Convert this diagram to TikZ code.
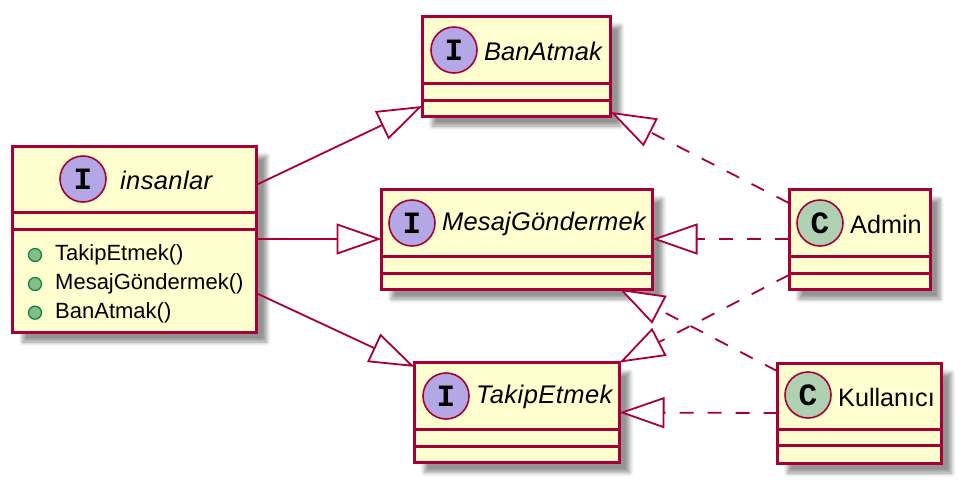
\documentclass[tikz,border=0pt]{standalone}
\usepackage{xcolor}
\usepackage{fontspec}
\setmainfont{Liberation Sans}
\newfontfamily\letterfont{Liberation Mono}
\usetikzlibrary{arrows.meta, shadows.blur}
\definecolor{umlred}{HTML}{A80036}
\definecolor{umlbox}{HTML}{FEFECE}
\definecolor{umlpurple}{HTML}{B4A7E5}
\definecolor{umlsage}{HTML}{ADD1B2}
\definecolor{umlgreen}{HTML}{84BE84}
\definecolor{umldot}{HTML}{038048}

\begin{document}
\begin{tikzpicture}[
  x=1pt, y=-1pt,
  box/.style={
    rectangle,
    draw=umlred,
    fill=umlbox,
    line width=3pt,
    inner sep=0pt,
    outer sep=0pt,
    blur shadow={shadow xshift=10pt, shadow yshift=-10pt, shadow blur radius=4pt, shadow blur steps=6, shadow opacity=42}
  },
  divider/.style={
    draw=umlred,
    line width=3pt
  },
  ifacemark/.style={
    circle,
    draw=umlred,
    fill=umlpurple,
    line width=1.6pt,
    minimum size=46pt,
    inner sep=0pt,
    font=\fontsize{31}{31}\selectfont\letterfont\bfseries
  },
  classmark/.style={
    ifacemark,
    fill=umlsage
  },
  iname/.style={
    anchor=west,
    inner sep=0pt,
    font=\fontsize{25.5}{27}\selectfont\itshape
  },
  cname/.style={
    anchor=west,
    inner sep=0pt,
    font=\fontsize{25.2}{27}\selectfont
  },
  member/.style={
    anchor=west,
    inner sep=0pt,
    font=\fontsize{22}{24}\selectfont
  },
  memberdot/.style={
    circle,
    draw=umldot,
    fill=umlgreen,
    line width=1.2pt,
    minimum size=13pt,
    inner sep=0pt
  },
  extends/.style={
    draw=umlred,
    line width=1.8pt,
    -{Triangle[length=45pt, width=31pt, fill=white]}
  },
  implements/.style={
    extends,
    dash pattern=on 14pt off 14pt
  }
]
  \useasboundingbox (0,0) rectangle (962,483);

  % Boxes
  \node[box, minimum width=244pt, minimum height=186pt] (insanlar) at (134.7,239) {};
  \node[box, minimum width=188.4pt, minimum height=100pt] (banatmak) at (516.5,66) {};
  \node[box, minimum width=271pt, minimum height=100pt] (mesaj) at (517,239) {};
  \node[box, minimum width=205pt, minimum height=100pt] (takip) at (517,412.5) {};
  \node[box, minimum width=141pt, minimum height=100pt] (admin) at (859.5,239) {};
  \node[box, minimum width=164pt, minimum height=100pt] (kullanici) at (859.5,413) {};

  % Compartment lines
  \draw[divider] (insanlar.west |- 0,212.3) -- (insanlar.east |- 0,212.3);
  \draw[divider] (insanlar.west |- 0,229) -- (insanlar.east |- 0,229);
  \draw[divider] (banatmak.west |- 0,83) -- (banatmak.east |- 0,83);
  \draw[divider] (banatmak.west |- 0,100) -- (banatmak.east |- 0,100);
  \draw[divider] (mesaj.west |- 0,256.5) -- (mesaj.east |- 0,256.5);
  \draw[divider] (mesaj.west |- 0,273) -- (mesaj.east |- 0,273);
  \draw[divider] (takip.west |- 0,429.5) -- (takip.east |- 0,429.5);
  \draw[divider] (takip.west |- 0,446) -- (takip.east |- 0,446);
  \draw[divider] (admin.west |- 0,256.5) -- (admin.east |- 0,256.5);
  \draw[divider] (admin.west |- 0,273) -- (admin.east |- 0,273);
  \draw[divider] (kullanici.west |- 0,429.5) -- (kullanici.east |- 0,429.5);
  \draw[divider] (kullanici.west |- 0,445.5) -- (kullanici.east |- 0,445.5);

  % Headers
  \node[ifacemark] (insanlarI) at (83,179) {I};
  \node[iname] (insanlarN) at (120,180) {\addfontfeature{LetterSpace=1.5}insanlar};
  \node[ifacemark] (banatmakI) at (454,50) {I};
  \node[iname] (banatmakN) at (484,51) {BanAtmak};
  \node[ifacemark] (mesajI) at (412,223) {I};
  \node[iname] (mesajN) at (442,224) {\addfontfeature{LetterSpace=0.7}MesajGöndermek};
  \node[ifacemark] (takipI) at (446,396) {I};
  \node[iname] (takipN) at (476,397) {\addfontfeature{LetterSpace=1.7}TakipEtmek};
  \node[classmark] (adminC) at (820,223) {C};
  \node[cname] (adminN) at (850,224) {Admin};
  \node[classmark] (kullaniciC) at (808,395) {C};
  \node[cname] (kullaniciN) at (838,397) {Kullanıcı};

  % Members
  \node[memberdot] (dotA) at (35,255) {};
  \node[member] (takipM) at (55,255) {TakipEtmek()};
  \node[memberdot] (dotB) at (35,284) {};
  \node[member] (mesajM) at (55,284) {MesajGöndermek()};
  \node[memberdot] (dotC) at (35,312.7) {};
  \node[member] (banM) at (55,313) {BanAtmak()};

  % Connectors
  \draw[extends] (insanlar.24) -- (banatmak.203.8);
  \draw[extends] (insanlar.east) -- (mesaj.west);
  \draw[extends] (insanlar.-24.8) -- (takip.156.2);
  \draw[implements] (admin.153) -- (banatmak.-26.8);
  \draw[implements] (admin.west) -- (mesaj.east);
  \draw[implements] (admin.207) -- (takip.26);
  \draw[implements] (kullanici.153) -- (mesaj.-26.6);
  \draw[implements] (kullanici.west) -- (takip.east);
\end{tikzpicture}
\end{document}
